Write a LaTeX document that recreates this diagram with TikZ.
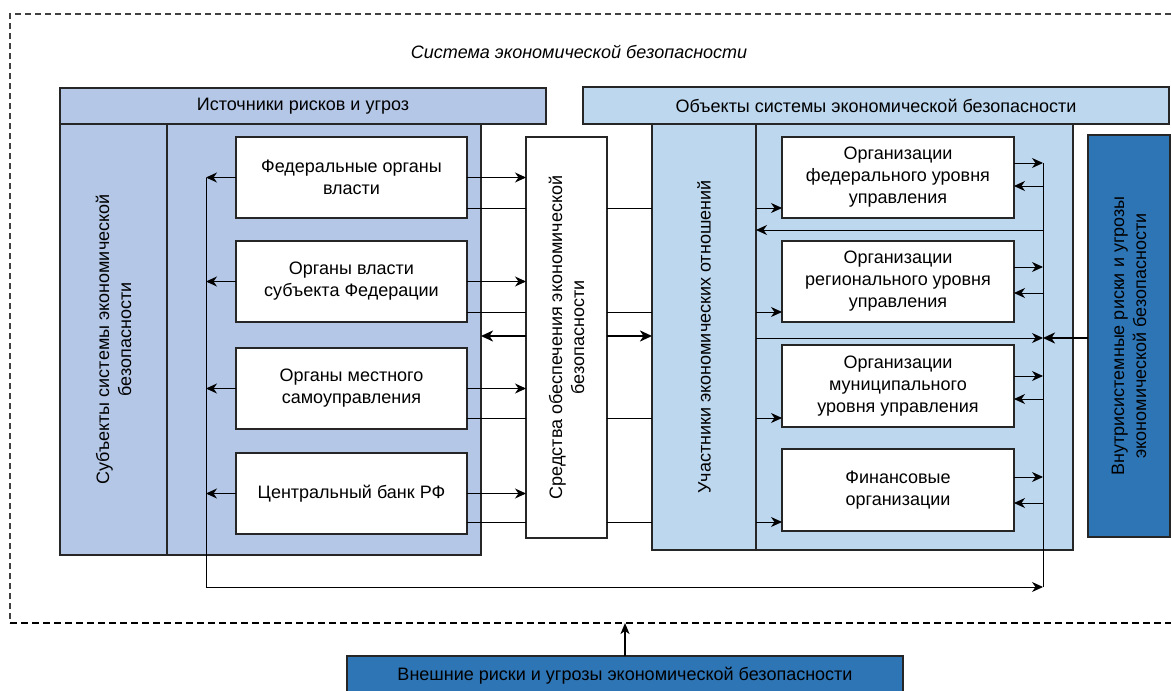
\documentclass[tikz,border=0pt]{standalone}
\usepackage{fontspec}
\setmainfont{Liberation Sans}
\usetikzlibrary{arrows.meta,calc}
\definecolor{lblue}{HTML}{B4C7E7}
\definecolor{rblue}{HTML}{BDD7EE}
\definecolor{dblue}{HTML}{2E75B6}
\begin{document}
\begin{tikzpicture}[x=1pt,y=-1pt,
  every node/.style={inner sep=0pt,outer sep=0pt,font=\fontsize{18}{22}\selectfont},
  panel/.style={draw=black!85,line width=1.2pt},
  wbox/.style={draw=black!85,fill=white,line width=1.3pt,align=center},
  rtext/.style={rotate=90,align=center},
  arr/.style={-{Stealth[length=11pt,width=10pt,inset=3.5pt]},line width=0.9pt},
  tarr/.style={-{Stealth[length=12pt,width=11pt,inset=3.5pt]},line width=2.4pt},
  ln/.style={line width=0.9pt},
  dashline/.style={dashed,dash pattern=on 6pt off 4pt,line width=1.4pt,black!75},
  dashbold/.style={dashed,dash pattern=on 7pt off 4pt,line width=2.2pt,black}]
\useasboundingbox (0,0) rectangle (1171,691);
% dashed system border
\draw[dashline] (1171,14) -- (10,14) -- (10,623);
\draw[dashbold] (10,623) -- (1171,623);
\node[font=\fontsize{18}{22}\selectfont\itshape] (title) at (579,52) {Система экономической безопасности};
% left panels
\node[panel,fill=lblue,minimum width=107pt,minimum height=431pt] (subj) at (113.5,339.5) {};
\node[rtext] at (subj.center) {Субъекты системы экономической\\безопасности};
\node[panel,fill=lblue,minimum width=314pt,minimum height=431pt] (src) at (324,339.5) {};
\node[panel,fill=lblue,minimum width=486pt,minimum height=36pt] (hsrc) at (303,106) {Источники рисков и угроз};
% right panels
\node[panel,fill=rblue,minimum width=104pt,minimum height=426pt] (uch) at (704,337) {};
\node[rtext] at (uch.center) {Участники экономических отношений};
\node[panel,fill=rblue,minimum width=317pt,minimum height=426pt] (obj) at (914.5,337) {};
\node[panel,fill=rblue,minimum width=586pt,minimum height=37pt] (hobj) at (876,105.5) {Объекты системы экономической безопасности};
% middle and right tall boxes
\node[wbox,minimum width=81pt,minimum height=401pt] (sr) at (566.5,337.5) {};
\node[rtext] at (sr.center) {Средства обеспечения экономической\\безопасности};
\node[panel,fill=dblue,minimum width=82pt,minimum height=402pt] (vn) at (1129,336) {};
\node[rtext] at (vn.center) {Внутрисистемные риски и угрозы\\экономической безопасности};
\node[panel,fill=dblue,minimum width=556pt,minimum height=40pt] (ext) at (625,676) {Внешние риски и угрозы экономической безопасности};
% left boxes
\node[wbox,minimum width=231pt,minimum height=81pt] (f1) at (351.5,177.5) {Федеральные органы\\власти};
\node[wbox,minimum width=231pt,minimum height=81pt] (f2) at (351.5,281.5) {Органы власти\\субъекта Федерации};
\node[wbox,minimum width=231pt,minimum height=81pt] (f3) at (351.5,388.5) {Органы местного\\самоуправления};
\node[wbox,minimum width=231pt,minimum height=81pt] (f4) at (351.5,493.5) {Центральный банк РФ};
% right boxes
\node[wbox,minimum width=232pt,minimum height=81pt] (o1) at (898,177.5) {Организации\\федерального уровня\\управления};
\node[wbox,minimum width=232pt,minimum height=81pt] (o2) at (898,281.5) {Организации\\регионального уровня\\управления};
\node[wbox,minimum width=232pt,minimum height=82pt] (o3) at (898,386) {Организации\\муниципального\\уровня управления};
\node[wbox,minimum width=232pt,minimum height=82pt] (o4) at (898,490) {Финансовые\\организации};
% bus coordinates
\coordinate (lb) at (206,587);
\coordinate (rb) at (1043,587);
\coordinate (rbt) at (1043,163);
\coordinate (lbt) at (206,177.5);
% left bus
\draw[ln] (lbt) -- (lb);
\draw[arr] (lb) -- (rb);
\draw[ln] (rbt) -- (rb);
\foreach \b in {f1,f2,f3,f4}{
  \draw[arr] (\b.west) -- (\b.west -| lb);
  \draw[arr] (\b.east) -- (\b.east -| sr.west);
}
% flow lines from left boxes to right boxes
\foreach \b/\o/\y in {f1/o1/208,f2/o2/312,f3/o3/418,f4/o4/522}{
  \coordinate (c\b) at (0,\y);
  \draw[ln] (\b.east |- c\b) -- (sr.west |- c\b);
  \draw[ln] (sr.east |- c\b) -- (uch.west |- c\b);
  \draw[arr] (uch.east |- c\b) -- (\o.west |- c\b);
}
% thick arrows around Sredstva
\coordinate (mid) at (0,336);
\draw[tarr] (sr.west |- mid) -- (src.east |- mid);
\draw[tarr] (sr.east |- mid) -- (uch.west |- mid);
% right boxes to right bus
\foreach \o/\yo/\yi in {o1/163/186,o2/267/293,o3/376/399,o4/477/503}{
  \coordinate (a\o) at (0,\yo);
  \coordinate (b\o) at (0,\yi);
  \draw[arr] (\o.east |- a\o) -- (rb |- a\o);
  \draw[arr] (rb |- b\o) -- (\o.east |- b\o);
}
\coordinate (back) at (0,230);
\draw[arr] (rb |- back) -- (uch.east |- back);
\coordinate (fwd) at (0,338);
\draw[arr] (uch.east |- fwd) -- (rb |- fwd);
\draw[tarr] (vn.west |- fwd) -- (rb |- fwd);
% external threats
\draw[-{Stealth[length=11pt,width=9pt,inset=3pt]},line width=1.8pt] (ext.north) -- (ext.north |- 0,623);
\end{tikzpicture}
\end{document}
